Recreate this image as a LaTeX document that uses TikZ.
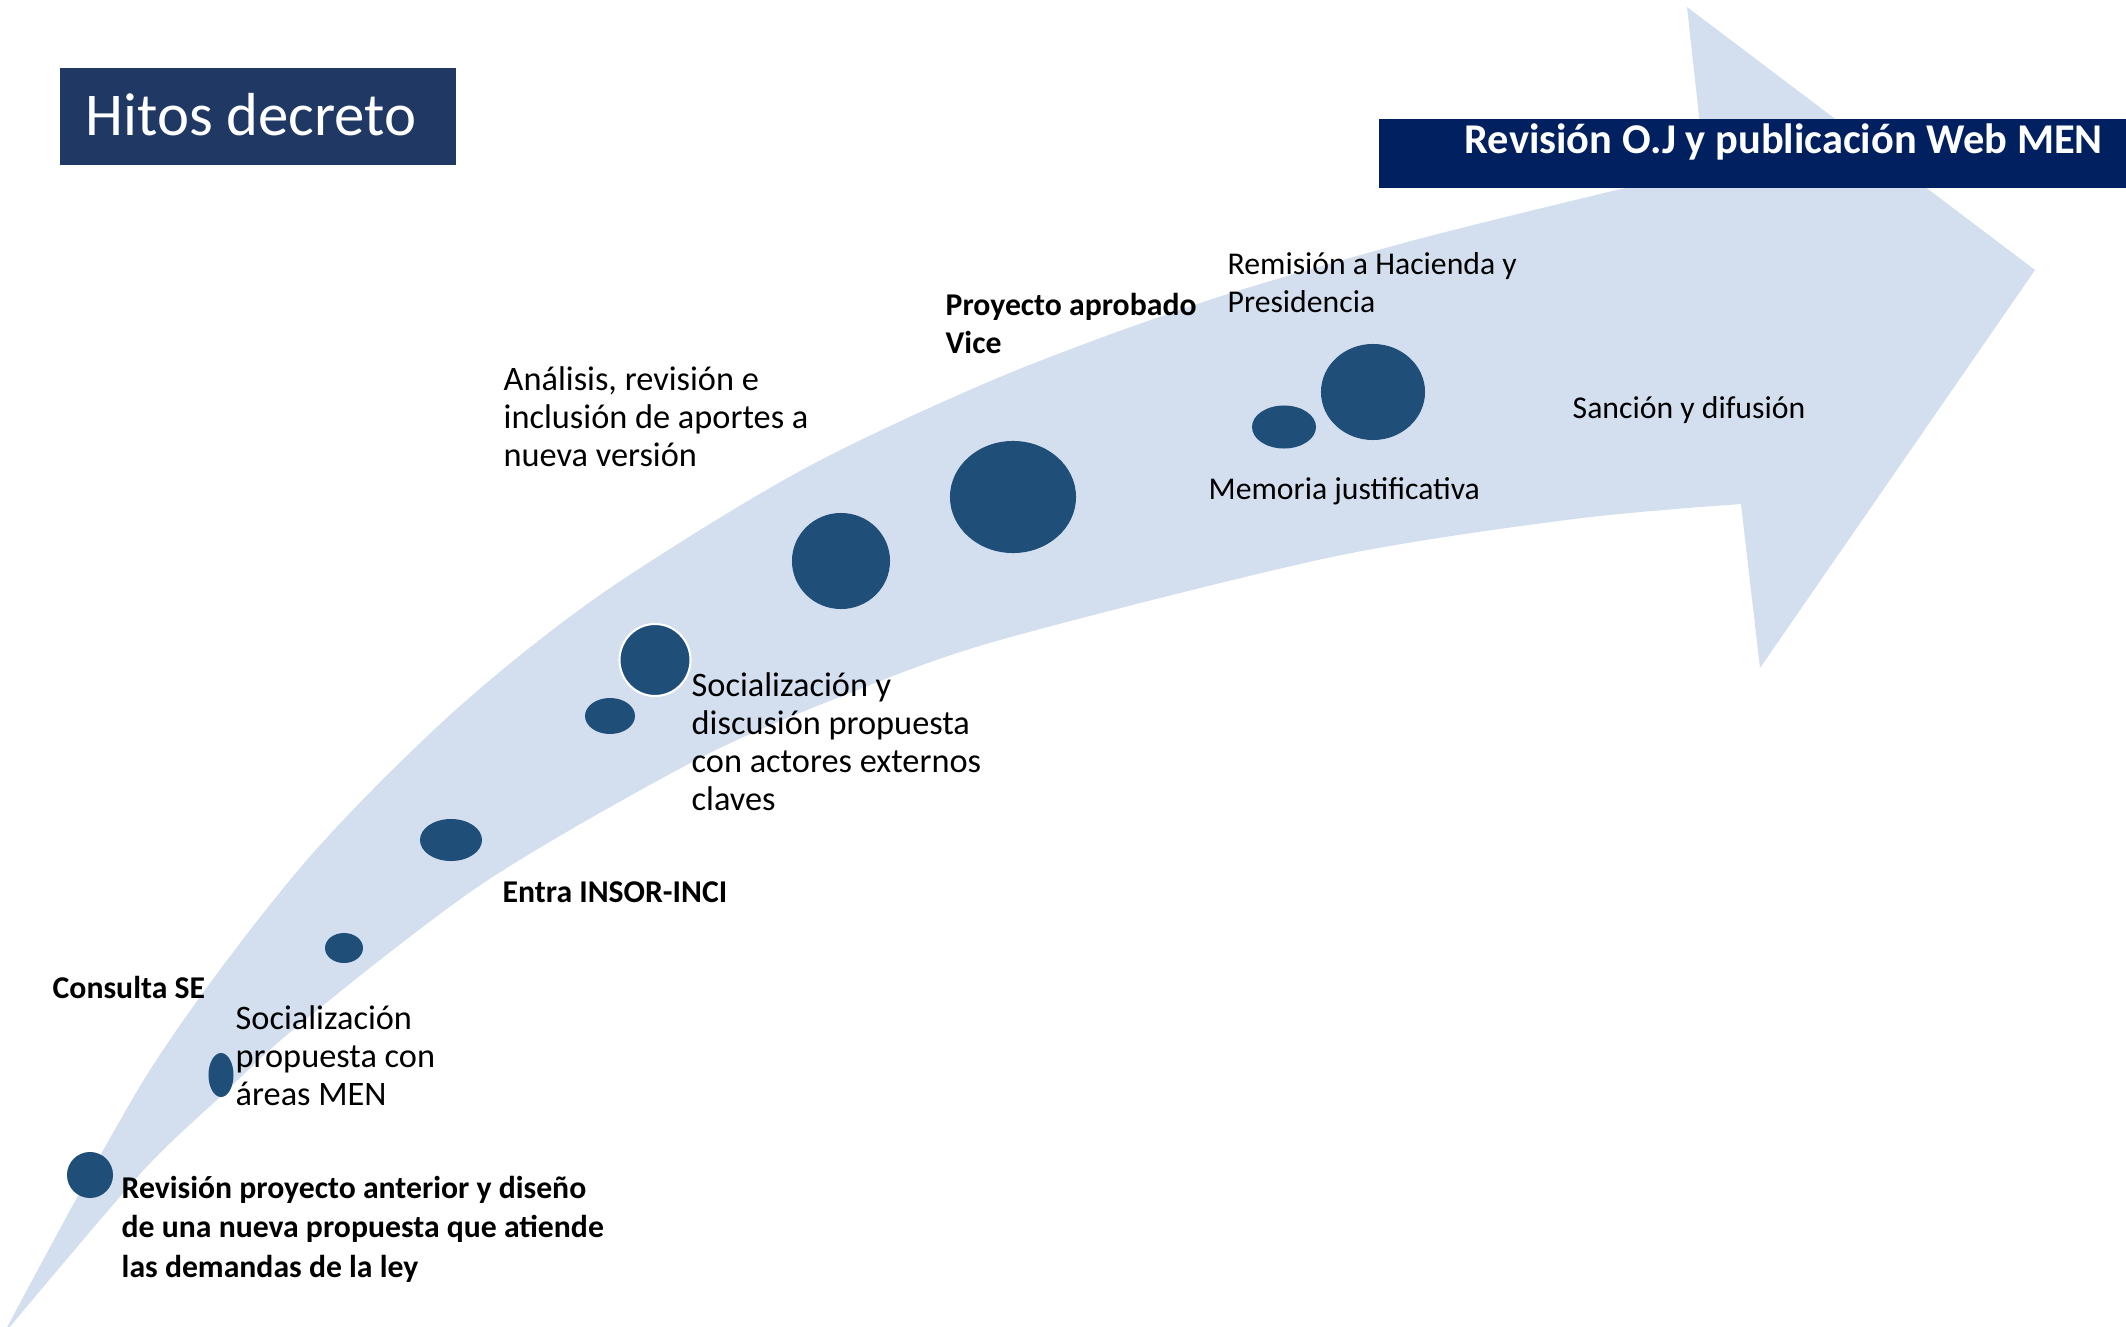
\documentclass[tikz,border=0pt]{standalone}
\usepackage{fontspec}
\setmainfont{Carlito}
\usetikzlibrary{shapes.geometric}
\definecolor{bandblue}{RGB}{211,222,239}
\definecolor{dotblue}{RGB}{31,78,121}
\definecolor{hitosbg}{RGB}{32,56,100}
\definecolor{revbg}{RGB}{0,32,96}
\begin{document}
\begin{tikzpicture}[x=0.01cm,y=-0.01cm,
  dot/.style={ellipse, fill=dotblue, inner sep=0pt},
  lbl/.style={anchor=base west, inner sep=0pt, align=left, text=black},
  bigtxt/.style={lbl, font=\fontsize{9.76}{10.75}\selectfont},
  smalltxt/.style={lbl, font=\fontsize{9.02}{10.53}\selectfont},
  boldtxt/.style={lbl, font=\bfseries\fontsize{9.02}{11.1}\selectfont}]
\useasboundingbox (0,0) rectangle (2126,1327);
\clip (0,0) rectangle (2126,1327);
% curved arrow band
\fill[bandblue] plot[smooth] coordinates {(3,1335) (150,1070) (300,868) (450,715) (600,595) (800,471) (1000,377) (1200,303) (1400,244) (1600,194) (1705,170)}
  -- (1687,7) -- (2035,270) -- (1760,668)
  -- plot[smooth] coordinates {(1741,504) (1574,519) (1332,557) (1000,640) (850,693) (700,758) (485,882) (300,1024) (220,1097) (140,1174) (3,1335)}
  -- cycle;
% title boxes
\node[fill=hitosbg, anchor=north west, inner sep=0pt, minimum width=3.96cm, minimum height=0.97cm] (hbox) at (59,67) {};
\node[anchor=base west, inner sep=0pt, text=white, font=\fontsize{17.27}{20}\selectfont] (htext) at (85,136) {Hitos decreto};
\node[fill=revbg, anchor=north west, inner sep=0pt, minimum width=7.50cm, minimum height=0.69cm] (rbox) at (1378,118) {};
\node[anchor=base west, inner sep=0pt, text=white, font=\bfseries\fontsize{12.06}{14}\selectfont] (rtext) at (1464,153) {Revisión O.J y publicación Web MEN};
% dots
\node[dot, minimum width=0.46cm, minimum height=0.46cm] (d1) at (90,1175) {};
\node[dot, minimum width=0.25cm, minimum height=0.44cm] (d2) at (221,1075) {};
\node[dot, minimum width=0.38cm, minimum height=0.30cm] (d3) at (344,948) {};
\node[dot, minimum width=0.62cm, minimum height=0.42cm] (d4) at (451,840) {};
\node[dot, minimum width=0.50cm, minimum height=0.36cm] (d5) at (610,716) {};
\node[dot, draw=white, line width=0.6pt, minimum width=0.71cm, minimum height=0.72cm] (d6) at (655,660) {};
\node[dot, minimum width=0.98cm, minimum height=0.96cm] (d7) at (841,561) {};
\node[dot, minimum width=1.26cm, minimum height=1.12cm] (d8) at (1013,497) {};
\node[dot, minimum width=0.64cm, minimum height=0.43cm] (d9) at (1284,427) {};
\node[dot, minimum width=1.04cm, minimum height=0.96cm] (d10) at (1373,392) {};
% labels (base anchor = baseline of the last line)
\node[boldtxt] (t1) at (121,1277) {Revisión proyecto anterior y diseño\\de una nueva propuesta que atiende\\las demandas de la ley};
\node[boldtxt] (t2) at (52,998) {Consulta SE};
\node[bigtxt] (t3) at (235,1105) {Socialización\\propuesta con\\áreas MEN};
\node[boldtxt] (t4) at (502,902) {Entra INSOR-INCI};
\node[bigtxt] (t5) at (691,810) {Socialización y\\discusión propuesta\\con actores externos\\claves};
\node[bigtxt] (t6) at (503,466) {Análisis, revisión e\\inclusión de aportes a\\nueva versión};
\node[boldtxt, font=\bfseries\fontsize{9.02}{10.53}\selectfont] (t7) at (945,353) {Proyecto aprobado\\Vice};
\node[smalltxt] (t8) at (1227,312) {Remisión a Hacienda y\\Presidencia};
\node[smalltxt] (t9) at (1208,499) {Memoria justificativa};
\node[smalltxt] (t10) at (1572,418) {Sanción y difusión};
\end{tikzpicture}
\end{document}
